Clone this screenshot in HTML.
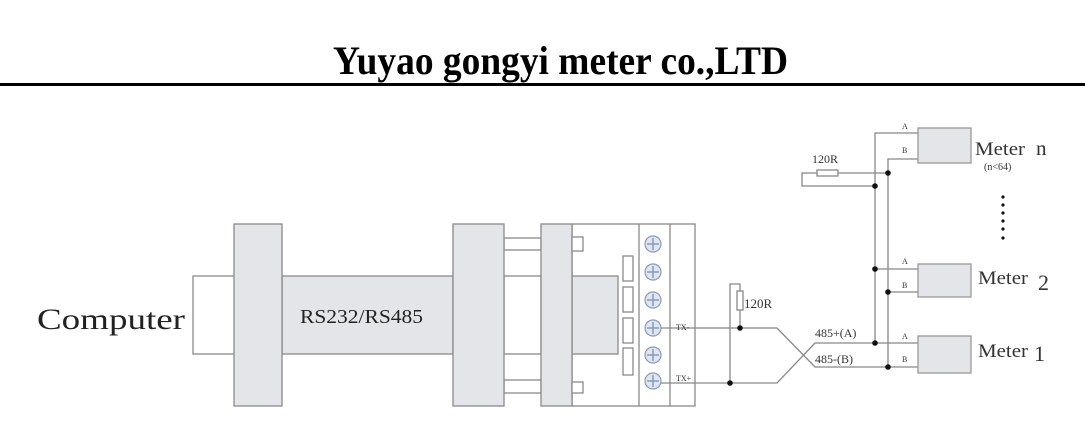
<!DOCTYPE html>
<html><head><meta charset="utf-8"><style>html,body{margin:0;padding:0;background:#fff}svg{display:block}</style></head>
<body>
<svg width="1085" height="438" viewBox="0 0 1085 438" xmlns="http://www.w3.org/2000/svg" font-family="Liberation Serif, serif">
<text x="333" y="74" font-size="40" font-weight="bold" textLength="455" lengthAdjust="spacingAndGlyphs">Yuyao gongyi meter co.,LTD</text>
<rect x="0" y="83" width="1085" height="3" fill="#000"/>
<g stroke="#8a8a8a" stroke-width="1.3" fill="#e4e5e9">
<rect x="193" y="276" width="42" height="78" fill="#fff"/>
<rect x="282" y="276" width="171" height="78"/>
<rect x="234" y="224" width="48" height="182"/>
<rect x="504" y="238" width="37" height="12" fill="#fff"/>
<rect x="504" y="380" width="37" height="13" fill="#fff"/>
<rect x="504" y="276" width="37" height="78" fill="#fff"/>
<rect x="453" y="224" width="51" height="182"/>
<rect x="572" y="224" width="123" height="182" fill="#fff"/>
<rect x="572" y="276" width="46" height="78"/>
<rect x="541" y="224" width="31" height="182"/>
<rect x="572" y="237" width="11" height="14" fill="#fff"/>
<rect x="572" y="382" width="11" height="11" fill="#fff"/>
<line x1="639" y1="224" x2="639" y2="406"/>
<line x1="670" y1="224" x2="670" y2="406"/>
<rect x="623" y="256" width="10" height="25" fill="#fff"/>
<rect x="623" y="287" width="10" height="25" fill="#fff"/>
<rect x="623" y="318" width="10" height="25" fill="#fff"/>
<rect x="623" y="348" width="10" height="27" fill="#fff"/>
</g>
<g stroke="#8a9ab8" stroke-width="1.2" fill="#dfe6f2">
<circle cx="653" cy="244" r="8"/><circle cx="653" cy="272" r="8"/><circle cx="653" cy="300" r="8"/>
<circle cx="653" cy="328" r="8"/><circle cx="653" cy="355" r="8"/><circle cx="653" cy="381" r="8"/>
</g>
<g stroke="#8a9ab8" stroke-width="1.5">
<path d="M653 238v12M647 244h12M653 266v12M647 272h12M653 294v12M647 300h12M653 322v12M647 328h12M653 349v12M647 355h12M653 375v12M647 381h12"/>
</g>
<text x="37" y="329" font-size="30" fill="#222" textLength="148" lengthAdjust="spacingAndGlyphs">Computer</text>
<text x="300" y="323" font-size="20" fill="#222" textLength="123" lengthAdjust="spacingAndGlyphs">RS232/RS485</text>
<g stroke="#888" stroke-width="1.3" fill="none">
<path d="M661 328H777L815 367H918"/>
<path d="M661 383H777L815 343H918"/>
<path d="M730 383V284H740V291M740 310V328"/>
<path d="M875 343V133H918M888 367V159H918"/>
<path d="M875 269H918M888 292H918"/>
<path d="M888 173H838M817 173H802V186H875"/>
<rect x="737" y="291" width="6" height="19" fill="#fff"/>
<rect x="817" y="170" width="21" height="6" fill="#fff"/>
</g>
<g stroke="#999" stroke-width="1.3" fill="#e4e5e9">
<rect x="918" y="128" width="53" height="35"/>
<rect x="918" y="264" width="53" height="33"/>
<rect x="918" y="336" width="53" height="37"/>
</g>
<g fill="#111">
<circle cx="730" cy="383" r="2.8"/><circle cx="740" cy="328" r="2.8"/>
<circle cx="888" cy="173" r="2.8"/><circle cx="875" cy="186" r="2.8"/>
<circle cx="875" cy="269" r="2.8"/><circle cx="888" cy="292" r="2.8"/>
<circle cx="875" cy="343" r="2.8"/><circle cx="888" cy="367" r="2.8"/>
<circle cx="1003" cy="197" r="1.6"/><circle cx="1003" cy="205" r="1.6"/><circle cx="1003" cy="213" r="1.6"/>
<circle cx="1003" cy="221" r="1.6"/><circle cx="1003" cy="229" r="1.6"/><circle cx="1003" cy="238" r="1.6"/>
</g>
<g fill="#333">
<text x="676" y="330" font-size="8">TX-</text>
<text x="676" y="381" font-size="8">TX+</text>
<text x="744" y="308" font-size="13">120R</text>
<text x="812" y="163" font-size="12">120R</text>
<text x="815" y="337" font-size="12">485+(A)</text>
<text x="815" y="363" font-size="12">485-(B)</text>
<g font-size="8"><text x="902" y="129">A</text><text x="902" y="153">B</text>
<text x="902" y="264">A</text><text x="902" y="288">B</text>
<text x="902" y="339">A</text><text x="902" y="362">B</text></g>
<text x="975" y="155" font-size="19" textLength="50" lengthAdjust="spacingAndGlyphs">Meter</text>
<text x="1036" y="155" font-size="21">n</text>
<text x="984" y="170" font-size="10">(n&lt;64)</text>
<text x="978" y="284" font-size="19" textLength="50" lengthAdjust="spacingAndGlyphs">Meter</text>
<text x="1038" y="290" font-size="22">2</text>
<text x="978" y="357" font-size="19" textLength="50" lengthAdjust="spacingAndGlyphs">Meter</text>
<text x="1034" y="361" font-size="22">1</text>
</g>
</svg>
</body></html>
